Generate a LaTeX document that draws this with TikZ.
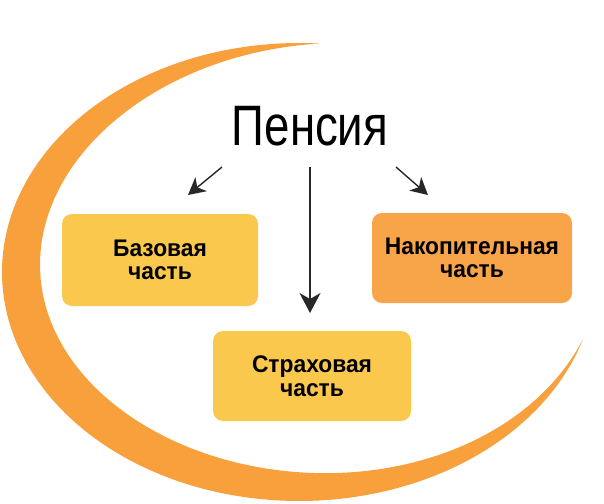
\documentclass[tikz,border=0pt]{standalone}
\usepackage{fontspec}
\setmainfont{Liberation Sans}
\newfontfamily\narrowfont[FakeStretch=0.8]{Liberation Sans}
\newfontfamily\boxfont[FakeStretch=0.95]{Liberation Sans}
\usetikzlibrary{arrows.meta}
\definecolor{crescent}{RGB}{247,160,60}
\definecolor{boxyellow}{RGB}{250,200,76}
\definecolor{boxorange}{RGB}{248,164,72}
\definecolor{arrowgray}{RGB}{40,40,40}
\tikzset{
  partbox/.style={rectangle, rounded corners=10pt, draw=none, align=center,
    font=\boxfont\fontsize{24}{23.5}\selectfont\bfseries, text=black, inner sep=0pt},
  arr/.style={draw=arrowgray, line width=1.4pt,
    -{Stealth[length=20pt,width=21pt,inset=6pt]}},
  arrsmall/.style={draw=arrowgray, line width=1.4pt,
    -{Stealth[length=17pt,width=18pt,inset=5pt]}}
}
\begin{document}
\begin{tikzpicture}[x=1pt,y=-1pt,
  declare function={uu(\t)=(\t-86)/257; wd(\t)=47*sin(180*uu(\t))*(1-0.3*uu(\t));}]
\useasboundingbox (0,0) rectangle (604,503);
\fill[white] (0,0) rectangle (604,503);
% crescent
\fill[crescent]
  plot[domain=86:343, samples=180] ({299+297*cos(\x)}, {272-229*sin(\x)})
  -- plot[domain=343:86, samples=180]
  ({299+(297-wd(\x))*cos(\x)}, {272-(229-wd(\x))*sin(\x)})
  -- cycle;
% title
\node[anchor=base, font=\narrowfont\fontsize{57}{60}\selectfont, inner sep=0pt]
  (title) at (310,145) {Пенсия};
% boxes
\node[partbox, fill=boxyellow, minimum width=196pt, minimum height=92pt]
  (base) at (160,260) {Базовая\\часть};
\node[partbox, fill=boxorange, minimum width=200pt, minimum height=90pt]
  (nak) at (472,258) {Накопительная\\часть};
\node[partbox, fill=boxyellow, minimum width=198pt, minimum height=90pt]
  (strah) at (312,376) {Страховая\\часть};
% arrow ends
\coordinate (sL) at (222,167);
\coordinate (eL) at (188,195);
\coordinate (sC) at (310,167);
\coordinate (eC) at (310,313);
\coordinate (sR) at (396,167);
\coordinate (eR) at (428,195);
\draw[arrsmall] (sL) -- (eL);
\draw[arr] (sC) -- (eC);
\draw[arrsmall] (sR) -- (eR);
\end{tikzpicture}
\end{document}
